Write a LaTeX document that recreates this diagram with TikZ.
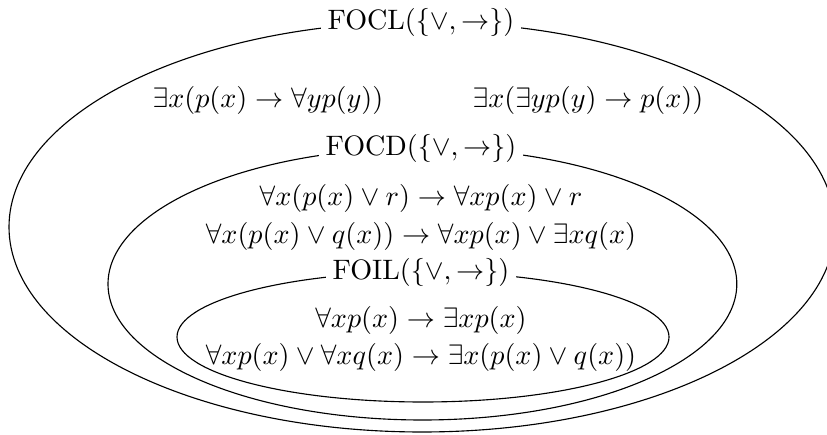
\documentclass[tikz,border=0pt]{standalone}
\usepackage{amsmath}
\usepackage{amssymb}
\usepackage{tikz}
\usetikzlibrary{positioning}

\begin{document}
\begin{tikzpicture}[
		setname/.style={fill=white, inner sep=2.5pt},
		formula/.style={inner sep=2pt}
	]
	\useasboundingbox (0,0) rectangle (10.3375,-5.4375);
	% the three classes
	\draw (5.275,-2.8375) ellipse [x radius=5.1625cm, y radius=2.5625cm];
	\draw (5.28,-3.55) ellipse [x radius=3.93cm, y radius=1.70cm];
	\draw (5.2875,-4.2125) ellipse [x radius=3.075cm, y radius=0.8125cm];
	% names
	\node[setname] (focl) at (5.2625,-0.275) {FOCL$(\{\vee,\to\})$};
	\node[setname] (focd) at (5.2625,-1.85) {FOCD$(\{\vee,\to\})$};
	\node[setname] (foil) at (5.2625,-3.40) {FOIL$(\{\vee,\to\})$};
	% formulas
	\node[formula] (cl1) at (3.35,-1.25) {$\exists x(p(x)\to\forall y p(y))$};
	\node[formula] (cl2) at (7.35,-1.25) {$\exists x(\exists y p(y)\to p(x))$};
	\node[formula] (cd1) at (5.2625,-2.475) {$\forall x(p(x)\vee r)\to\forall x p(x)\vee r$};
	\node[formula] (cd2) at (5.2625,-2.95) {$\forall x(p(x)\vee q(x))\to\forall x p(x)\vee\exists x q(x)$};
	\node[formula] (il1) at (5.2625,-4.0) {$\forall x p(x)\to\exists x p(x)$};
	\node[formula] (il2) at (5.2625,-4.4625) {$\forall x p(x)\vee\forall x q(x)\to\exists x(p(x)\vee q(x))$};
\end{tikzpicture}
\end{document}
